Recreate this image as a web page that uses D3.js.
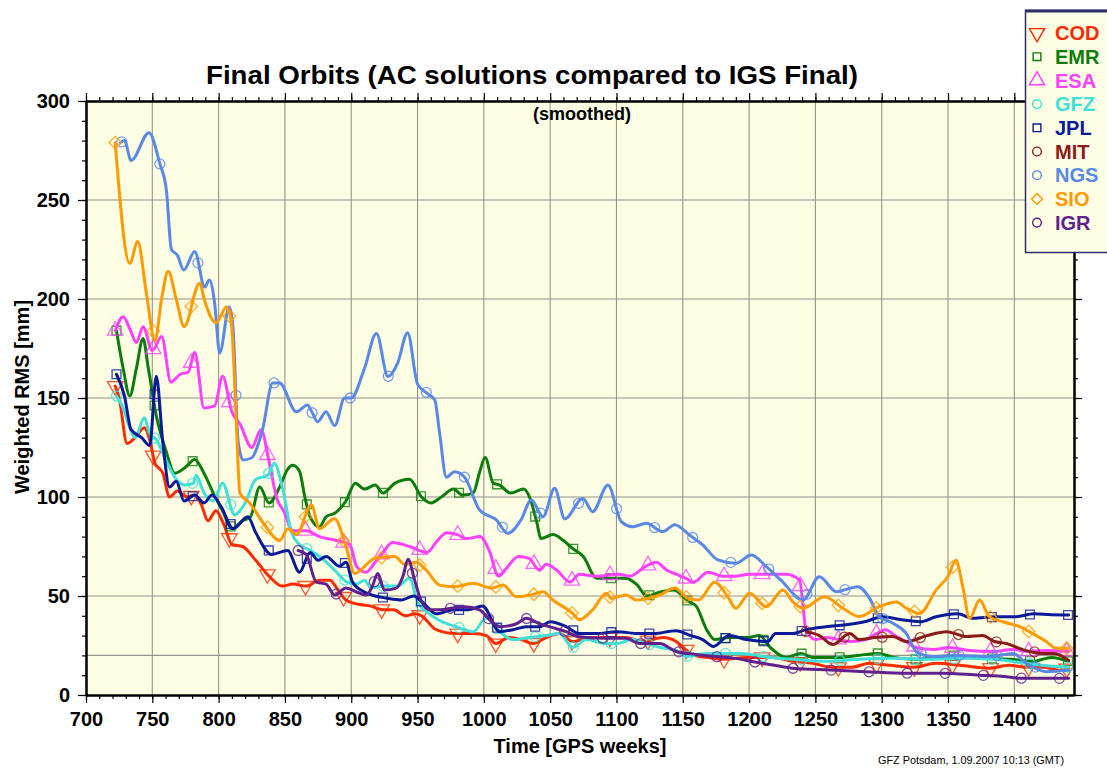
<!DOCTYPE html>
<html>
<head>
<meta charset="utf-8">
<script src="https://cdn.jsdelivr.net/npm/d3@7"></script>
<style>
  body { margin: 0; background: #fff; }
  text { font-family: "Liberation Sans", Arial, Helvetica, sans-serif; }
</style>
</head>
<body>
<svg id="chart" width="1107" height="771"></svg>
<script>
// analysis centres, legend order
var acNames = ['COD', 'EMR', 'ESA', 'GFZ', 'JPL', 'MIT', 'NGS', 'SIO', 'IGR'];
var acColors = ['#ff2a00', '#0c7c0c', '#ff40ff', '#40e0d8', '#0a1a99', '#8b1a1a', '#5a88e6', '#ff9a00', '#62208f'];
var acSymbols = ['triangleDown', 'square', 'triangle', 'circle', 'square', 'circle', 'circle', 'diamond', 'circle'];
var markerStart = [722, 723, 722, 723, 723, 1243, 727, 722, 860];
var markerStep = 28.7;

// weighted RMS [mm] by GPS week
var codData = [[722,156],[725,150],[731,127],[737,130],[744,135],[748,129],[752,117],[758,112],[763,100],[769,103],[776,100],[782,101],[787,96],[792,88],[798,93],[804,86],[810,76],[818,75],[828,68],[838,60],[848,55],[856,56],[866,55],[876,58],[884,58],[890,53],[896,48],[904,46],[914,45],[924,43],[932,43],[941,40],[948,41],[953,40],[964,33],[979,31],[992,31],[1002,30],[1009,26],[1019,29],[1028,28],[1037,26],[1047,29],[1057,31],[1067,27],[1080,29],[1095,29],[1107,29],[1120,27],[1135,29],[1145,27],[1152,23],[1158,20],[1168,19],[1180,18],[1198,19],[1218,19],[1233,17],[1248,16],[1263,14],[1277,14],[1291,16],[1306,15],[1324,14],[1341,16],[1359,15],[1381,13.5],[1396,15],[1409,14],[1422,14],[1434,12.5],[1441,13.5]];
var emrData = [[723,184],[728,165],[733,151],[738,165],[743,180],[747,165],[753,141],[760,124],[767,112],[775,115],[782,119],[789,112],[796,102],[803,93],[810,84],[818,88],[824,90],[831,105],[838,97],[846,105],[852,114],[856,116],[861,113],[865,100],[869,90],[876,85],[881,90],[888,92],[896,98],[903,107],[910,104],[918,106],[924,102],[933,107],[944,109],[953,100],[960,97],[968,100],[977,104],[984,101],[992,102],[997,113],[1001,120],[1007,107],[1012,106],[1020,102],[1030,104],[1035,99],[1040,87],[1043,79],[1052,81],[1060,78],[1067,74],[1075,70],[1085,59],[1095,59],[1107,59],[1115,56],[1123,50],[1133,52],[1143,53],[1155,47],[1160,45],[1168,33],[1174,28],[1185,29],[1198,29],[1208,30],[1216,24],[1228,19],[1239,21],[1248,19],[1268,19],[1282,20],[1297,21],[1309,19],[1326,18],[1340,19],[1354,20],[1368,19],[1381,18.5],[1398,18],[1414,17],[1428,19],[1441,17]];
var esaData = [[722,184],[728,191],[733,185],[738,178],[743,186],[750,174],[757,181],[764,158],[771,162],[777,163],[782,173],[789,145],[797,146],[803,161],[810,143],[816,137],[825,125],[832,134],[838,118],[844,99],[849,93],[856,83],[866,83],[876,80],[889,78],[899,76],[904,65],[911,62],[918,67],[924,72],[931,77],[944,75],[957,72],[965,78],[972,82],[980,81],[987,79],[997,80],[1004,73],[1011,60],[1017,64],[1026,70],[1034,69],[1042,63],[1047,66],[1055,63],[1065,57],[1072,61],[1085,60],[1102,61],[1110,60],[1122,65],[1130,67],[1138,63],[1145,61],[1152,59],[1158,57],[1169,62],[1180,60],[1189,60],[1200,61],[1215,61],[1228,61],[1238,58],[1243,33],[1250,28],[1258,29],[1268,28],[1276,27],[1288,28],[1296,31],[1303,33],[1310,30],[1318,27],[1326,24],[1339,23],[1351,24],[1366,22.5],[1384,22],[1399,23],[1411,22],[1422,22.5],[1441,22]];
var gfzData = [[723,151],[728,145],[733,135],[737,130],[744,140],[748,132],[753,129],[760,119],[768,109],[775,106],[781,107],[783,111],[789,102],[796,98],[803,107],[812,91],[820,97],[828,109],[837,111],[842,117],[848,105],[855,82],[861,76],[869,73],[878,69],[889,62],[897,57],[904,56],[910,58],[915,54],[924,55],[935,55],[944,59],[950,47],[959,41],[972,36],[979,34.5],[992,32],[1002,39],[1009,34],[1022,28],[1034,29],[1047,30],[1057,31],[1067,24],[1077,28],[1092,26],[1100,26],[1112,28],[1122,26],[1133,24],[1145,22.5],[1153,19.5],[1168,21],[1185,21],[1195,21],[1210,19.5],[1233,18],[1258,17],[1283,18],[1308,18.5],[1334,18],[1359,18.5],[1384,18],[1409,16],[1429,14.5],[1441,14]];
var jplData = [[723,162],[729,151],[734,134],[742,130],[748,126],[753,161],[758,127],[763,105],[768,108],[774,98],[782,101],[789,97],[795,101],[802,95],[811,84],[822,90],[828,82],[840,71],[852,73],[861,62],[869,72],[875,68],[881,70],[891,65],[896,67],[901,57],[910,52],[918,50],[926,49],[938,48],[947,50],[955,46],[964,41],[977,43],[988,43],[999,45],[1012,32],[1022,33],[1032,34.5],[1042,34.5],[1050,37],[1062,34.5],[1072,31],[1085,31],[1100,32],[1117,31],[1128,31],[1145,32.5],[1156,30],[1165,28],[1173,24.5],[1185,30],[1198,28],[1214,27],[1220,31],[1233,31],[1243,33],[1258,34.5],[1273,35.5],[1287,37],[1301,39.5],[1315,38],[1329,37],[1341,39.5],[1357,41],[1369,38.7],[1386,39.5],[1401,39.5],[1415,41],[1428,40.5],[1441,40.4]];
var mitData = [[1243,32],[1253,30],[1263,25.5],[1276,31],[1283,28],[1295,29],[1308,29.5],[1319,27],[1334,30],[1349,32],[1364,29.5],[1376,30],[1385,27],[1394,26],[1406,23],[1421,21],[1430,21],[1441,17.5]];
var ngsData = [[726,279],[729,280],[734,270],[747.5,284],[755.6,268.5],[760.6,255],[764.4,225],[769,222],[773.7,214.6],[782,224],[789.5,206],[793,209.6],[797,198],[800.8,172.7],[808,196],[810.8,186],[814.6,128.8],[818.4,118.7],[824.7,119.7],[833,133.8],[840.8,157.6],[846,157.6],[858.6,143],[867,146.5],[871,142],[874.7,138],[881,143],[887.5,136],[895,150],[900,150],[910,165],[919,182.6],[927.7,160.8],[935,167.6],[942.5,183],[950,157],[958,152],[963,149],[966.7,132],[971.7,110],[978,112.8],[985.5,110],[996.8,93.4],[1009.4,88.4],[1018,81.7],[1028,88.4],[1035.8,98.5],[1044.6,90],[1053.4,104.4],[1061,89],[1074.7,99.3],[1082,92.6],[1093.6,106],[1103.7,87.5],[1112.4,85],[1122.5,86.7],[1135,82.5],[1144,86],[1155,80.8],[1165,75.8],[1176.5,68.2],[1190,66.5],[1201.7,70.7],[1213,64.8],[1224,58],[1240.6,48],[1253,59.7],[1265.8,52.2],[1282,54.7],[1290.9,48.8],[1298,39.6],[1308.5,36.2],[1318.6,31],[1326,22],[1338.6,19.4],[1358.7,20],[1381.3,19.4],[1399,21],[1409,16],[1424,11.8],[1441,12.5]];
var sioData = [[722,279],[733,218],[739,229],[745.5,203],[752,179],[757,200],[762,214],[768,200],[774,186],[785.7,208],[789.5,199],[798,188],[806,196],[809.6,188],[813.4,137],[816,102],[823.4,97],[833.5,87],[846,78],[852.3,84],[858.6,81],[870,96],[876,84],[887.5,89],[896,75],[902.6,61.4],[917.7,69],[932.8,70],[940.3,66],[949,67],[956.6,63],[966.7,55.5],[978,54.7],[991.8,56.4],[1005.6,54],[1014.4,55.5],[1024.5,49.6],[1035.8,50.5],[1044.6,52.2],[1052,48],[1067,41.2],[1072,38],[1082,43],[1092.4,51.4],[1096,48.8],[1107.4,50.5],[1115,48],[1123.7,48.8],[1132.6,50.5],[1144,54],[1154,48.8],[1162,48],[1174,57],[1184,49.6],[1190,43.8],[1200.4,51.4],[1213,44.6],[1225.5,53],[1233,47],[1240.6,43.8],[1257,49.6],[1270.8,43.8],[1283,39.6],[1298,44.6],[1311,47],[1318.6,43.8],[1328.6,41.2],[1341,53],[1350,60],[1356,68],[1361,55],[1366.3,38.7],[1373.8,48],[1381,39.6],[1391.4,37],[1404,34.5],[1414,31],[1424,27],[1431.7,23.6],[1441,23.6]];
var igrData = [[860,73],[866,71],[873.7,57],[881,56],[887.5,50.5],[896,54],[906,51.5],[911.4,50.5],[916,55],[920,61.4],[925,53],[934,54],[939,60],[942.8,68.5],[947.8,58],[951.6,49.6],[959,43],[967,43],[976.7,44],[985.5,44.6],[996.8,43],[1004.4,38],[1012,34.5],[1024.5,36],[1032,38.7],[1042,36],[1052,34],[1062,32],[1072,29.4],[1092,28.6],[1107,28.6],[1117.5,26],[1132.5,26],[1145,22],[1160,20.5],[1175,19.4],[1190,18.5],[1203,16.8],[1218,15.2],[1233,13.5],[1261,12.6],[1288,11.8],[1319,11],[1346,11],[1374,10],[1390,9.5],[1404,8.5],[1432,8.4],[1441,8.4]];

var acData = [codData, emrData, esaData, gfzData, jplData, mitData, ngsData, sioData, igrData];

var xTicks = d3.range(700, 1401, 50);
var xMinor = d3.range(700, 1445, 10);
var yTicks = d3.range(0, 301, 50);
var yMinor = d3.range(0, 301, 10);
var xGrid = d3.range(750, 1401, 50);
var yGrid = [20, 50, 100, 150, 200, 250];

var plotL = 86, plotR = 1074, plotT = 101, plotB = 695;

var svg = d3.select('#chart');

var x = d3.scaleLinear().domain([700, 1445]).range([plotL, plotR]);
var y = d3.scaleLinear().domain([0, 300]).range([plotB, plotT]);

svg.append('defs').append('clipPath')
    .attr('id', 'plotClip')
  .append('rect')
    .attr('x', plotL).attr('y', plotT)
    .attr('width', plotR - plotL).attr('height', plotB - plotT);

svg.append('rect')
  .attr('x', plotL).attr('y', plotT)
  .attr('width', plotR - plotL).attr('height', plotB - plotT)
  .attr('fill', '#fdfde4');

// grid
var grid = svg.append('g').attr('stroke', '#94948a').attr('stroke-width', 1.1);
grid.selectAll('.gx').data(xGrid).enter().append('line')
  .attr('x1', function(d) { return x(d); }).attr('x2', function(d) { return x(d); })
  .attr('y1', plotT).attr('y2', plotB);
grid.selectAll('.gy').data(yGrid).enter().append('line')
  .attr('y1', function(d) { return y(d); }).attr('y2', function(d) { return y(d); })
  .attr('x1', plotL).attr('x2', plotR);

function valueAt(data, w) {
  var i = d3.bisector(function(d) { return d[0]; }).left(data, w);
  if (i <= 0) return data[0][1];
  if (i >= data.length) return data[data.length - 1][1];
  var a = data[i - 1], b = data[i];
  return a[1] + (b[1] - a[1]) * (w - a[0]) / (b[0] - a[0]);
}

function symbolPath(name, size) {
  var type = d3.symbolCircle;
  if (name === 'square' || name === 'diamond') type = d3.symbolSquare;
  if (name === 'triangle' || name === 'triangleDown') type = d3.symbolTriangle;
  return d3.symbol().type(type).size(size)();
}

function symbolRotate(name) {
  if (name === 'triangleDown') return ' rotate(180)';
  if (name === 'diamond') return ' rotate(45)';
  return '';
}

var line = d3.line()
  .x(function(d) { return x(d[0]); })
  .y(function(d) { return y(d[1]); })
  .curve(d3.curveMonotoneX);

var plot = svg.append('g').attr('clip-path', 'url(#plotClip)');

acData.forEach(function(data, i) {
  var g = plot.append('g');
  g.append('path')
    .datum(data)
    .attr('d', line)
    .attr('fill', 'none')
    .attr('stroke', acColors[i])
    .attr('stroke-width', 3)
    .attr('stroke-linejoin', 'round')
    .attr('stroke-linecap', 'round');

  var last = data[data.length - 1][0];
  var weeks = d3.range(markerStart[i], last + 0.5, markerStep);
  var size = acSymbols[i].indexOf('triangle') >= 0 ? 105 : 78;
  g.selectAll('.mk').data(weeks).enter().append('path')
    .attr('d', symbolPath(acSymbols[i], size))
    .attr('transform', function(w) {
      return 'translate(' + x(w) + ',' + y(valueAt(data, w)) + ')' + symbolRotate(acSymbols[i]);
    })
    .attr('fill', 'none')
    .attr('stroke', acColors[i])
    .attr('stroke-opacity', 0.8)
    .attr('stroke-width', 1.3);
});

// axes: major + minor ticks on all four sides
function styleAxis(g) {
  g.select('.domain').attr('stroke', '#000').attr('stroke-width', 2);
  g.selectAll('.tick line').attr('stroke', '#000').attr('stroke-width', 1.2);
  g.selectAll('.tick text')
    .attr('fill', '#000')
    .style('font-size', '20px')
    .style('font-weight', 'bold');
}

svg.append('g')
  .attr('transform', 'translate(0,' + plotB + ')')
  .call(d3.axisBottom(x).tickValues(xMinor).tickSize(4).tickSizeOuter(0).tickFormat(''))
  .call(styleAxis);
svg.append('g')
  .attr('transform', 'translate(0,' + plotB + ')')
  .call(d3.axisBottom(x).tickValues(xTicks).tickSize(8).tickSizeOuter(0).tickPadding(9).tickFormat(d3.format('d')))
  .call(styleAxis);

svg.append('g')
  .attr('transform', 'translate(0,' + plotT + ')')
  .call(d3.axisTop(x).tickValues(xMinor).tickSize(4).tickSizeOuter(0).tickFormat(''))
  .call(styleAxis);
svg.append('g')
  .attr('transform', 'translate(0,' + plotT + ')')
  .call(d3.axisTop(x).tickValues(xTicks).tickSize(8).tickSizeOuter(0).tickFormat(''))
  .call(styleAxis);

svg.append('g')
  .attr('transform', 'translate(' + plotL + ',0)')
  .call(d3.axisLeft(y).tickValues(yMinor).tickSize(4).tickSizeOuter(0).tickFormat(''))
  .call(styleAxis);
svg.append('g')
  .attr('transform', 'translate(' + plotL + ',0)')
  .call(d3.axisLeft(y).tickValues(yTicks).tickSize(8).tickSizeOuter(0).tickPadding(8).tickFormat(d3.format('d')))
  .call(styleAxis);

svg.append('g')
  .attr('transform', 'translate(' + plotR + ',0)')
  .call(d3.axisRight(y).tickValues(yMinor).tickSize(4).tickSizeOuter(0).tickFormat(''))
  .call(styleAxis);
svg.append('g')
  .attr('transform', 'translate(' + plotR + ',0)')
  .call(d3.axisRight(y).tickValues(yTicks).tickSize(8).tickSizeOuter(0).tickFormat(''))
  .call(styleAxis);

// titles
svg.append('text')
  .attr('x', 206).attr('y', 84)
  .attr('textLength', 652).attr('lengthAdjust', 'spacingAndGlyphs')
  .style('font-size', '26px').style('font-weight', 'bold')
  .text('Final Orbits (AC solutions compared to IGS Final)');

svg.append('text')
  .attr('x', 582).attr('y', 120)
  .attr('text-anchor', 'middle')
  .style('font-size', '18px').style('font-weight', 'bold')
  .text('(smoothed)');

svg.append('text')
  .attr('x', 580).attr('y', 753)
  .attr('text-anchor', 'middle')
  .style('font-size', '20px').style('font-weight', 'bold')
  .text('Time [GPS weeks]');

svg.append('text')
  .attr('transform', 'translate(29,397) rotate(-90)')
  .attr('text-anchor', 'middle')
  .style('font-size', '20px').style('font-weight', 'bold')
  .text('Weighted RMS [mm]');

svg.append('text')
  .attr('x', 878).attr('y', 764)
  .attr('textLength', 186).attr('lengthAdjust', 'spacingAndGlyphs')
  .style('font-size', '11px')
  .text('GFZ Potsdam, 1.09.2007 10:13 (GMT)');

// legend box, partly outside the page like the original
var legend = svg.append('g');
legend.append('rect')
  .attr('x', 1025.5).attr('y', 10.5)
  .attr('width', 110).attr('height', 242)
  .attr('fill', '#fdfde4')
  .attr('stroke', '#2c2c6a')
  .attr('stroke-width', 1.5);
legend.append('line')
  .attr('x1', 1025).attr('x2', 1107)
  .attr('y1', 11).attr('y2', 11)
  .attr('stroke', '#2c2c6a').attr('stroke-width', 3);

var rows = legend.selectAll('.row').data(acNames).enter().append('g')
  .attr('transform', function(d, i) { return 'translate(1037,' + (33 + i * 23.7) + ')'; });
rows.append('path')
  .attr('d', function(d, i) { return symbolPath(acSymbols[i], acSymbols[i].indexOf('triangle') >= 0 ? 100 : 60); })
  .attr('transform', function(d, i) { return symbolRotate(acSymbols[i]).trim(); })
  .attr('fill', 'none')
  .attr('stroke', function(d, i) { return acColors[i]; })
  .attr('stroke-width', 1.4);
rows.append('text')
  .attr('x', 18).attr('dy', '0.36em')
  .attr('fill', function(d, i) { return acColors[i]; })
  .style('font-size', '20px').style('font-weight', 'bold')
  .text(function(d) { return d; });
</script>
</body>
</html>
